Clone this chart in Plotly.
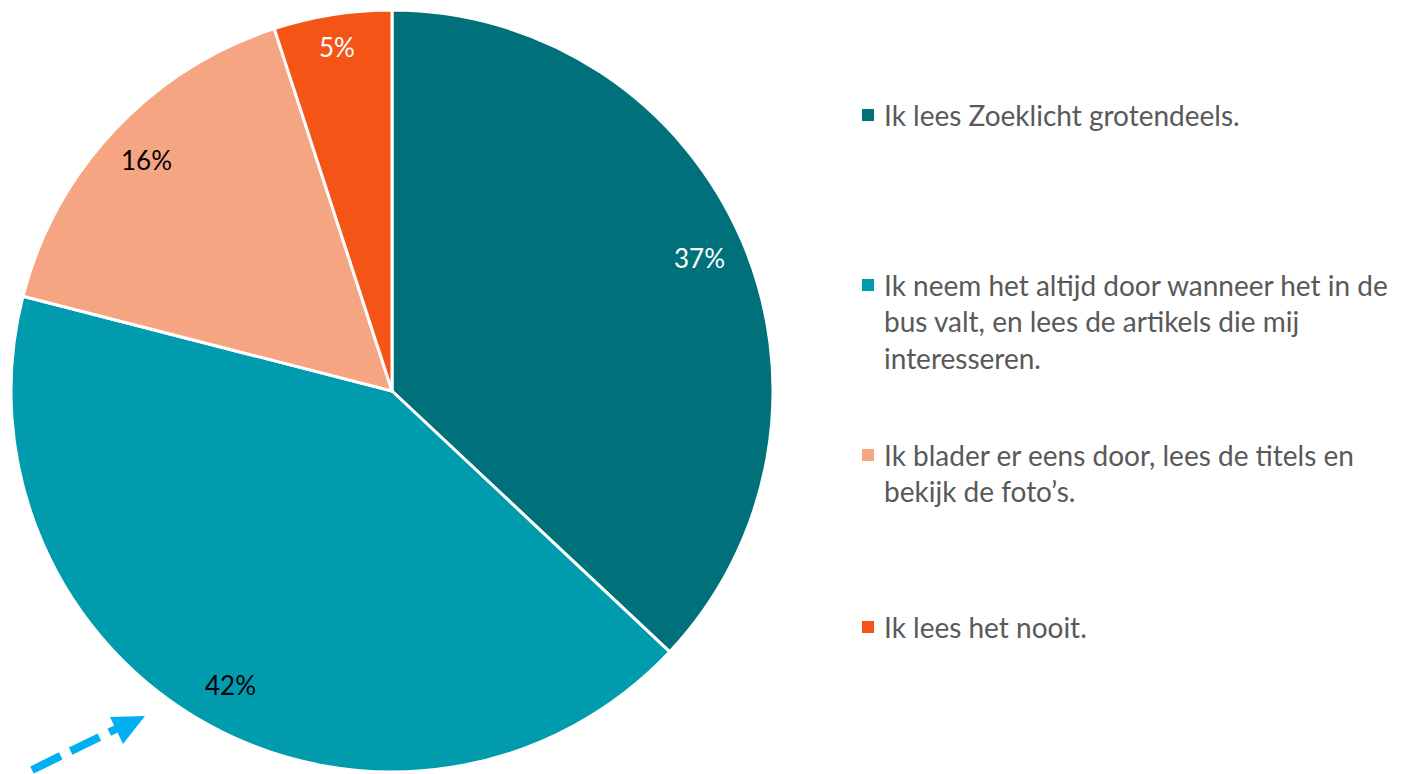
import math
import plotly.graph_objects as go

# Leesgedrag Zoeklicht (aandeel respondenten, %)
categories = [
    "Ik lees Zoeklicht grotendeels.",
    "Ik neem het altijd door wanneer het in de<br>bus valt, en lees de artikels die mij<br>interesseren.",
    "Ik blader er eens door, lees de titels en<br>bekijk de foto’s.",
    "Ik lees het nooit.",
]
values = [37, 42, 16, 5]
colors = ["#00707A", "#009CAD", "#F5A582", "#F45517"]
label_colors = ["white", "black", "black", "white"]
label_radius = [0.88, 0.88, 0.885, 0.915]   # radial position of each data label

W, H = 1403, 774
FONT = "Lato, 'Open Sans', sans-serif"

# pie geometry in pixels
CX, CY, R = 392, 391, 381

fig = go.Figure()
fig.add_trace(go.Pie(
    labels=categories,
    values=values,
    sort=False,
    direction="clockwise",
    rotation=0,
    marker=dict(colors=colors, line=dict(color="white", width=3)),
    textinfo="none",
    domain=dict(x=[(CX - R) / W, (CX + R) / W], y=[1 - (CY + R) / H, 1 - (CY - R) / H]),
    showlegend=False,
    hoverinfo="label+percent",
))

# data labels placed near the outer rim, at each slice's mid-angle
total = sum(values)
cum = 0
for v, col, rf in zip(values, label_colors, label_radius):
    mid = (cum + v / 2) / total * 2 * math.pi
    cum += v
    px = CX + rf * R * math.sin(mid)
    py = CY - rf * R * math.cos(mid)
    fig.add_annotation(xref="paper", yref="paper", x=px / W, y=1 - py / H,
                       xanchor="center", yanchor="middle", showarrow=False,
                       text=f"{v}%", font=dict(family=FONT, size=26, color=col))

# legend drawn as square swatches with wrapped labels
legend_lines = [115, 285, 455, 627]   # centre of each item's first line
for cat, col, yc in zip(categories, colors, legend_lines):
    fig.add_shape(type="rect", xref="paper", yref="paper",
                  x0=862 / W, x1=874 / W,
                  y0=1 - (yc + 6) / H, y1=1 - (yc - 6) / H,
                  fillcolor=col, line=dict(width=0))
    fig.add_annotation(xref="paper", yref="paper", x=882 / W, y=1 - (yc - 19) / H,
                       xanchor="left", yanchor="top", align="left",
                       text=cat, showarrow=False,
                       font=dict(family=FONT, size=28, color="#595959"))

# dashed arrow pointing at the largest slice
arrow_col = "#00B0F0"
fig.add_shape(type="line", xref="paper", yref="paper",
              x0=32 / W, y0=1 - 770 / H, x1=118 / W, y1=1 - 728 / H,
              line=dict(color=arrow_col, width=8, dash="32px,11px"))
fig.add_shape(type="path", xref="paper", yref="paper",
              path=f"M {110/W},{1-717/H} L {145/W},{1-716/H} L {123/W},{1-744/H} Z",
              fillcolor=arrow_col, line=dict(width=0))

fig.update_layout(
    width=W, height=H,
    margin=dict(l=0, r=0, t=0, b=0),
    paper_bgcolor="white",
    plot_bgcolor="white",
)

fig.write_html("out.html")
